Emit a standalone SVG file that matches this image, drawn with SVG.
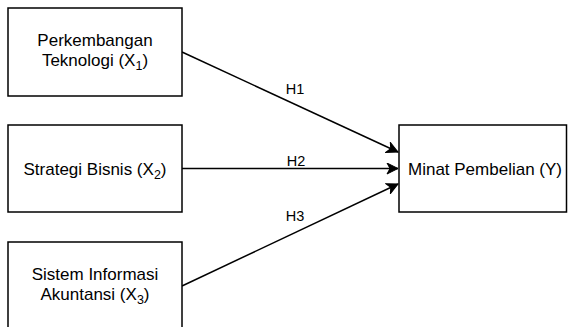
<svg xmlns="http://www.w3.org/2000/svg" width="568" height="327" viewBox="0 0 568 327">
<style>
.box{fill:#fff;stroke:#000;stroke-width:1.5}
.t{font-family:"Liberation Sans",Arial,sans-serif;font-size:17px;fill:#000;text-anchor:middle}
.lbl{font-family:"Liberation Sans",Arial,sans-serif;font-size:14.5px;fill:#000;text-anchor:middle}
.sub{font-size:12.5px}
.edge{fill:none;stroke:#000;stroke-width:1.5}
</style>
<defs>
<marker id="arr" markerUnits="userSpaceOnUse" viewBox="-12 -6 13 12" refX="0" refY="0" markerWidth="13" markerHeight="12" orient="auto">
<path d="M0,0 L-11,-5.5 L-8,0 L-11,5.5 Z" fill="#000" stroke="#000" stroke-width="1"/>
</marker>
</defs>
<rect width="568" height="327" fill="#fff"/>
<g id="connectors">
<line class="edge" x1="182" y1="52" x2="398" y2="152" marker-end="url(#arr)"/>
<line class="edge" x1="182" y1="168.5" x2="398" y2="168.5" marker-end="url(#arr)"/>
<line class="edge" x1="182" y1="286" x2="398" y2="184" marker-end="url(#arr)"/>
<text class="lbl" x="295" y="94">H1</text>
<text class="lbl" x="296" y="166">H2</text>
<text class="lbl" x="295" y="220.5">H3</text>
</g>
<g id="x1">
<rect class="box" x="8" y="8" width="174" height="88"/>
<text class="t" x="95" y="45.5">Perkembangan</text>
<text class="t" x="95" y="65.5">Teknologi (X<tspan class="sub" dy="4">1</tspan><tspan dy="-4">)</tspan></text>
</g>
<g id="x2">
<rect class="box" x="8" y="125" width="174" height="87"/>
<text class="t" x="95" y="174.5">Strategi Bisnis (X<tspan class="sub" dy="4">2</tspan><tspan dy="-4">)</tspan></text>
</g>
<g id="x3">
<rect class="box" x="8" y="242" width="174" height="88"/>
<text class="t" x="95" y="279.5">Sistem Informasi</text>
<text class="t" x="95" y="299.5">Akuntansi (X<tspan class="sub" dy="4">3</tspan><tspan dy="-4">)</tspan></text>
</g>
<g id="y">
<rect class="box" x="399" y="125" width="167.5" height="87"/>
<text class="t" x="485" y="175">Minat Pembelian (Y)</text>
</g>
</svg>
